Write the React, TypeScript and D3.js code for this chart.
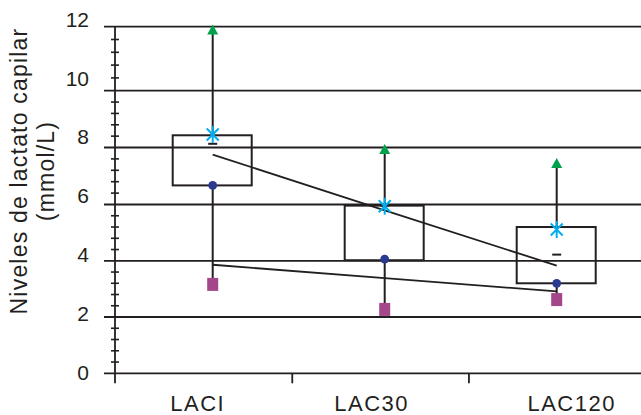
import React from "react";
import * as d3 from "d3";

const categories = ["LACI", "LAC30", "LAC120"];
const maxValues = [11.9, 7.93, 7.44];
const q3Values = [8.43, 5.96, 5.2];
const medianValues = [8.13, 5.96, 4.22];
const meanValues = [8.46, 5.94, 5.11];
const q1Values = [6.67, 4.02, 3.2];
const circleValues = [6.67, 4.06, 3.2];
const minValues = [3.16, 2.27, 2.62];
const upperTrend = [7.75, 5.79, 3.83];
const lowerTrend = [3.86, 3.38, 2.91];
const yTicks = [0, 2, 4, 6, 8, 10, 12];
const yTitle = ["Niveles de lactato capilar", "(mmol/L)"];

const W = 641;
const H = 415;
const INK = "#231f20";
const FONT = "'Liberation Sans', Arial, Helvetica, sans-serif";
const labelDx = [-15, -13, 15];

export default function App() {
  // plot geometry (the source image is slightly non-uniform vertically)
  const y = d3
    .scaleLinear()
    .domain(yTicks)
    .range([373.3, 317, 260.8, 204.5, 147.5, 90.7, 26.7]);
  const yLabel = d3.scaleLinear().domain([0, 12]).range([380, 26.7]);
  const xPt = d3.scalePoint<string>().domain(categories).range([212.7, 556.7]);
  const xBand = d3.scaleBand<string>().domain(categories).range([115.6, 645.6]);
  const axisX = 115;
  const gridX0 = 104;
  const minorTicks = d3.range(0.4, 12, 0.4).filter((v) => Math.abs(v / 2 - Math.round(v / 2)) > 0.01);
  const boxW = 79;

  const trendLine = d3
    .line<number>()
    .x((_, i) => xPt(categories[i])!)
    .y((d) => y(d));

  return (
    <svg
      width={W}
      height={H}
      style={{ position: "absolute", left: 0, top: 0, background: "#fff" }}
      fontFamily={FONT}
    >
      {/* grid lines */}
      {yTicks.map((t) => (
        <line key={"g" + t} x1={gridX0} x2={W} y1={y(t)} y2={y(t)} stroke={INK} strokeWidth={1.8} />
      ))}
      {/* y axis */}
      <line x1={axisX} x2={axisX} y1={y(12)} y2={y(0) + 10} stroke={INK} strokeWidth={1.8} />
      {minorTicks.map((t) => (
        <line key={"m" + t} x1={axisX - 4} x2={axisX + 4} y1={y(t)} y2={y(t)} stroke={INK} strokeWidth={1.6} />
      ))}
      {/* x ticks (category boundaries) */}
      {categories.slice(1).map((c) => (
        <line key={"xt" + c} x1={xBand(c)!} x2={xBand(c)!} y1={y(0)} y2={y(0) + 10} stroke={INK} strokeWidth={1.8} />
      ))}
      {/* y tick labels */}
      {yTicks.map((t) => (
        <text key={"yl" + t} x={89} y={yLabel(t)} textAnchor="end" fontSize={21} fill={INK}>
          {t}
        </text>
      ))}
      {/* x labels */}
      {categories.map((c, i) => (
        <text
          key={"xl" + c}
          x={xPt(c)! + labelDx[i]}
          y={411}
          textAnchor="middle"
          fontSize={22}
          letterSpacing={1.5}
          fill={INK}
        >
          {c}
        </text>
      ))}
      {/* y title */}
      {yTitle.map((s, i) => (
        <text
          key={"yt" + i}
          transform={`translate(${i === 0 ? 27 : 54},171) rotate(-90)`}
          textAnchor="middle"
          fontSize={23}
          letterSpacing={1.2}
          fill={INK}
        >
          {s}
        </text>
      ))}

      {/* boxes */}
      {categories.map((c, i) => {
        const cx = xPt(c)!;
        return (
          <g key={"b" + c}>
            <rect
              x={cx - 40}
              y={y(q3Values[i])}
              width={boxW}
              height={y(q1Values[i]) - y(q3Values[i])}
              fill="none"
              stroke={INK}
              strokeWidth={2}
            />
            <line x1={cx} x2={cx} y1={y(maxValues[i])} y2={y(q3Values[i])} stroke={INK} strokeWidth={2} />
            <line x1={cx} x2={cx} y1={y(q1Values[i])} y2={y(minValues[i])} stroke={INK} strokeWidth={2} />
            <line x1={cx - 4.5} x2={cx + 4.5} y1={y(medianValues[i])} y2={y(medianValues[i])} stroke={INK} strokeWidth={2} />
          </g>
        );
      })}

      {/* trend lines */}
      <path d={trendLine(upperTrend)!} fill="none" stroke={INK} strokeWidth={1.8} />
      <path d={trendLine(lowerTrend)!} fill="none" stroke={INK} strokeWidth={1.8} />

      {/* markers */}
      {categories.map((c, i) => {
        const cx = xPt(c)!;
        const ym = y(meanValues[i]);
        const yt = y(maxValues[i]);
        const ys = y(minValues[i]);
        return (
          <g key={"mk" + c}>
            <path d={`M${cx},${yt - 5.5}L${cx + 5.5},${yt + 4.5}L${cx - 5.5},${yt + 4.5}Z`} fill="#00a14b" />
            <rect x={cx - 5.5} y={ys - 6.5} width={11} height={13} fill="#a3468a" />
            <circle cx={cx} cy={y(circleValues[i])} r={4.4} fill="#2b3990" />
            <g stroke="#00aeef" strokeWidth={2}>
              <line x1={cx} x2={cx} y1={ym - 8.5} y2={ym + 8.5} />
              <line x1={cx - 6} x2={cx + 6} y1={ym - 6} y2={ym + 6} />
              <line x1={cx - 6} x2={cx + 6} y1={ym + 6} y2={ym - 6} />
            </g>
          </g>
        );
      })}
    </svg>
  );
}
